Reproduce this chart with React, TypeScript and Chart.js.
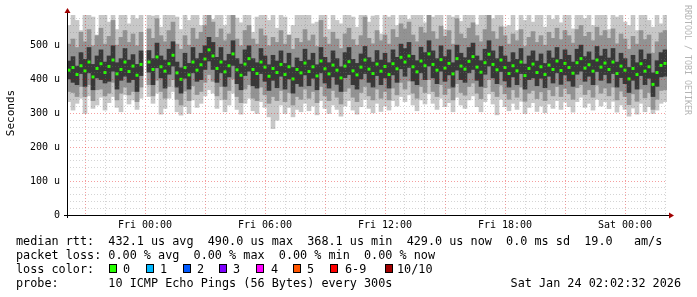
import { useEffect, useRef } from 'react';
import { Chart, registerables } from 'chart.js';

Chart.register(...registerables);

// time axis: hours relative to Fri 00:00
const X_MIN = -3.9;
const X_MAX = 26.1;
const SLOT_HOURS = 0.2;
const X_TICK_LABELS: Record<number, string> = {
  0: 'Fri 00:00',
  6: 'Fri 06:00',
  12: 'Fri 12:00',
  18: 'Fri 18:00',
  24: 'Sat 00:00',
};
const Y_MAX = 591; // microseconds

// median rtt per slot (us)
const median: (number | null)[] = [
  428, 436, 415, 441, 426, 452, 408, 433, 447, 421,
  439, 458, 417, 430, 452, 424, 440, 413, 445, null,
  452, 430, 467, 438, 425, 447, 472, 420, 401, 436,
  414, 452, 428, 444, 461, 488, 470, 433, 452, 423,
  441, 476, 429, 413, 446, 462, 430, 418, 452, 437,
  410, 433, 421, 445, 415, 438, 402, 430, 420, 449,
  424, 438, 411, 455, 432, 417, 443, 428, 405, 440,
  453, 426, 414, 437, 458, 431, 418, 446, 425, 439,
  415, 447, 432, 466, 452, 470, 438, 423, 455, 441,
  476, 445, 428, 459, 434, 448, 417, 462, 440, 431,
  454, 468, 437, 422, 450, 475, 445, 429, 458, 436,
  418, 441, 426, 452, 412, 433, 446, 421, 438, 415,
  443, 430, 455, 427, 448, 436, 419, 450, 462, 434,
  444, 425, 458, 437, 449, 430, 452, 418, 440, 428,
  402, 433, 415, 447, 425, 438, 386, 421, 442, 448,
];
// dark smoke (inner pings)
const darkLo: (number | null)[] = [
  402, 392, 385, 418, 380, 420, 370, 405, 400, 390,
  395, 425, 372, 398, 410, 392, 400, 365, 412, null,
  422, 385, 435, 405, 375, 416, 440, 378, 360, 404,
  372, 420, 395, 400, 430, 455, 430, 392, 420, 380,
  408, 442, 388, 370, 412, 425, 382, 375, 418, 395,
  368, 398, 376, 410, 372, 402, 360, 388, 380, 414,
  382, 404, 370, 420, 390, 375, 408, 386, 365, 406,
  415, 385, 372, 402, 418, 392, 378, 412, 385, 405,
  375, 414, 392, 432, 410, 436, 396, 385, 420, 400,
  440, 405, 388, 425, 395, 414, 378, 428, 400, 392,
  420, 430, 398, 380, 416, 440, 405, 388, 424, 396,
  378, 408, 385, 418, 372, 400, 405, 382, 404, 376,
  410, 390, 420, 386, 414, 396, 380, 416, 425, 395,
  410, 385, 424, 398, 415, 390, 418, 378, 406, 388,
  362, 398, 372, 412, 385, 404, 350, 380, 408, 410,
];
const darkHi: (number | null)[] = [
  455, 468, 440, 480, 460, 495, 445, 470, 488, 452,
  470, 500, 450, 462, 492, 458, 474, 445, 485, null,
  486, 462, 508, 470, 458, 490, 512, 452, 435, 478,
  448, 495, 462, 478, 500, 525, 510, 466, 495, 456,
  475, 515, 462, 446, 488, 500, 462, 450, 492, 470,
  444, 472, 455, 485, 448, 478, 436, 464, 454, 490,
  458, 478, 444, 495, 466, 450, 485, 462, 438, 480,
  495, 460, 448, 476, 498, 465, 452, 486, 458, 478,
  450, 488, 466, 505, 492, 510, 472, 456, 496, 480,
  515, 485, 462, 500, 468, 488, 450, 502, 478, 465,
  495, 508, 470, 456, 490, 515, 485, 462, 498, 470,
  452, 480, 460, 492, 446, 470, 485, 455, 476, 448,
  485, 464, 495, 460, 488, 472, 452, 490, 502, 468,
  482, 458, 498, 470, 490, 464, 492, 452, 478, 462,
  436, 472, 450, 488, 460, 476, 420, 456, 480, 488,
];
// medium smoke
const midLo: (number | null)[] = [
  365, 362, 350, 380, 350, 385, 338, 370, 372, 352,
  360, 392, 340, 360, 378, 355, 365, 335, 378, null,
  385, 352, 398, 365, 345, 380, 400, 342, 325, 366,
  338, 382, 356, 365, 392, 415, 395, 352, 380, 342,
  368, 402, 350, 332, 372, 385, 345, 338, 378, 355,
  330, 350, 338, 368, 335, 362, 325, 350, 342, 372,
  345, 365, 332, 380, 352, 338, 368, 348, 328, 365,
  375, 348, 335, 362, 380, 352, 340, 372, 345, 365,
  340, 375, 355, 392, 372, 396, 360, 345, 380, 362,
  400, 365, 350, 385, 356, 374, 340, 388, 362, 354,
  380, 390, 360, 344, 376, 400, 365, 350, 384, 358,
  342, 370, 348, 378, 336, 360, 368, 344, 364, 338,
  370, 352, 380, 350, 374, 358, 342, 376, 385, 356,
  370, 348, 384, 360, 375, 352, 378, 340, 366, 350,
  326, 358, 336, 372, 346, 362, 312, 342, 368, 370,
];
const midHi: (number | null)[] = [
  505, 520, 495, 540, 512, 548, 500, 530, 552, 505,
  528, 575, 502, 525, 545, 510, 535, 500, 540, null,
  550, 522, 580, 530, 512, 545, 570, 505, 490, 530,
  502, 552, 520, 540, 560, 600, 570, 525, 550, 515,
  535, 590, 520, 500, 545, 560, 520, 505, 550, 530,
  500, 525, 510, 545, 505, 532, 490, 522, 510, 548,
  515, 532, 498, 575, 525, 505, 540, 520, 492, 535,
  552, 518, 502, 530, 585, 522, 506, 545, 515, 532,
  505, 548, 525, 565, 550, 570, 532, 512, 555, 538,
  600, 542, 520, 558, 528, 545, 505, 580, 535, 522,
  552, 568, 530, 512, 548, 598, 542, 520, 556, 530,
  505, 535, 515, 548, 498, 525, 542, 510, 530, 502,
  540, 522, 552, 518, 545, 530, 508, 548, 560, 528,
  540, 515, 555, 530, 545, 522, 550, 506, 535, 520,
  490, 528, 505, 545, 518, 532, 478, 512, 538, 545,
];
// light smoke (all pings, min..max)
const lightLo: (number | null)[] = [
  335, 310, 330, 345, 300, 352, 315, 325, 348, 310,
  332, 350, 318, 305, 355, 328, 340, 312, 345, null,
  350, 330, 360, 298, 315, 345, 365, 305, 295, 320,
  300, 340, 318, 330, 352, 370, 360, 315, 340, 305,
  325, 360, 312, 298, 330, 345, 308, 300, 335, 318,
  290, 255, 280, 325, 300, 318, 290, 312, 305, 330,
  308, 322, 296, 338, 315, 300, 325, 312, 292, 322,
  338, 310, 298, 320, 342, 315, 302, 330, 306, 322,
  310, 338, 322, 350, 335, 355, 325, 308, 340, 328,
  358, 330, 312, 345, 320, 332, 305, 348, 325, 315,
  340, 352, 320, 305, 335, 358, 328, 296, 342, 320,
  308, 330, 312, 336, 300, 318, 332, 306, 322, 302,
  328, 315, 338, 312, 334, 320, 304, 335, 348, 318,
  330, 310, 342, 322, 335, 314, 336, 304, 325, 312,
  292, 316, 298, 330, 305, 320, 300, 310, 330, 335,
];
const lightHi: (number | null)[] = [
  560, 600, 575, 545, 610, 650, 585, 532, 640, 595,
  570, 650, 548, 625, 640, 565, 600, 580, 635, null,
  640, 588, 650, 555, 590, 640, 600, 585, 548, 620,
  575, 645, 600, 560, 650, 660, 578, 610, 640, 560,
  630, 655, 582, 568, 620, 650, 540, 585, 645, 590,
  575, 610, 552, 640, 585, 530, 560, 605, 590, 645,
  600, 565, 570, 650, 610, 548, 635, 575, 565, 630,
  648, 585, 555, 620, 650, 570, 588, 640, 535, 625,
  585, 642, 560, 655, 640, 578, 620, 595, 648, 568,
  655, 585, 605, 650, 548, 640, 585, 650, 572, 608,
  645, 655, 562, 595, 642, 655, 580, 605, 650, 556,
  560, 628, 545, 645, 575, 612, 570, 592, 620, 555,
  632, 578, 648, 568, 640, 620, 550, 645, 652, 580,
  635, 560, 650, 590, 642, 548, 646, 585, 630, 570,
  560, 612, 545, 640, 600, 575, 555, 592, 565, 640,
];

const LEGEND_LINE1 = 'median rtt:  432.1 us avg  490.0 us max  368.1 us min  429.0 us now  0.0 ms sd  19.0   am/s';
const LEGEND_LINE2 = 'packet loss: 0.00 % avg  0.00 % max  0.00 % min  0.00 % now';
const LEGEND_LINE3 = 'loss color:';
const LEGEND_LINE4 = 'probe:       10 ICMP Echo Pings (56 Bytes) every 300s';
const DATE_TEXT = 'Sat Jan 24 02:02:32 2026';
const LOSS_LABELS = ['0', '1', '2', '3', '4', '5', '6-9', '10/10'];
const LOSS_COLORS = ['#26ff00', '#00b8ff', '#0059ff', '#7e00ff', '#ff00ff', '#ff5500', '#ff0000', '#a10000'];
const LOSS_BOX_X = [109, 146, 183, 219, 256, 293, 330, 385];
const LOSS_TEXT_X = [123, 160, 197, 233, 271, 307, 345, 397];

const MONO = '"DejaVu Sans Mono", monospace';
const MAJOR_GRID = 'rgba(230,0,0,0.38)';
const MINOR_GRID = 'rgba(120,120,120,0.32)';

export default function App() {
  const ref = useRef<HTMLCanvasElement | null>(null);
  useEffect(() => {
    document.body.style.margin = '0';
    const canvas = ref.current;
    if (!canvas) return;
    const times = median.map((_, i) => X_MIN + SLOT_HOURS * (i + 0.5));
    const band = (lo: (number | null)[], hi: (number | null)[]) =>
      times.map((t, i) => ({ x: t, y: lo[i] == null || hi[i] == null ? null : [lo[i], hi[i]] }));

    const overlay = {
      id: 'rrdOverlay',
      afterDraw(chart: any) {
        const ctx = chart.ctx as CanvasRenderingContext2D;
        const a = chart.chartArea;
        ctx.save();
        // axes
        ctx.strokeStyle = '#000';
        ctx.lineWidth = 1;
        ctx.beginPath();
        ctx.moveTo(a.left - 3, a.bottom + 0.5);
        ctx.lineTo(a.right + 3, a.bottom + 0.5);
        ctx.moveTo(a.left + 0.5, a.bottom + 3);
        ctx.lineTo(a.left + 0.5, a.top - 3);
        ctx.stroke();
        // arrows
        ctx.fillStyle = '#a00000';
        ctx.beginPath();
        ctx.moveTo(a.right + 2, a.bottom - 2.5);
        ctx.lineTo(a.right + 7, a.bottom + 0.5);
        ctx.lineTo(a.right + 2, a.bottom + 3.5);
        ctx.closePath();
        ctx.fill();
        ctx.beginPath();
        ctx.moveTo(a.left - 2.5, a.top - 2);
        ctx.lineTo(a.left + 0.5, a.top - 7);
        ctx.lineTo(a.left + 3.5, a.top - 2);
        ctx.closePath();
        ctx.fill();
        // y title
        ctx.fillStyle = '#000';
        ctx.font = `11px ${MONO}`;
        ctx.textAlign = 'center';
        ctx.textBaseline = 'middle';
        ctx.save();
        ctx.translate(11, 113);
        ctx.rotate(-Math.PI / 2);
        ctx.fillText('Seconds', 0, 0);
        ctx.restore();
        // watermark
        ctx.save();
        ctx.fillStyle = '#b4b4b4';
        ctx.font = `8.3px ${MONO}`;
        ctx.translate(687, 60);
        ctx.rotate(Math.PI / 2);
        ctx.fillText('RRDTOOL / TOBI OETIKER', 0, 0);
        ctx.restore();
        // legend
        ctx.textAlign = 'left';
        ctx.textBaseline = 'alphabetic';
        ctx.font = `11.8px ${MONO}`;
        ctx.fillStyle = '#000';
        ctx.fillText(LEGEND_LINE1, 16, 245);
        ctx.fillText(LEGEND_LINE2, 16, 259);
        ctx.fillText(LEGEND_LINE3, 16, 273);
        ctx.fillText(LEGEND_LINE4, 16, 287);
        LOSS_LABELS.forEach((lab, i) => {
          ctx.fillStyle = LOSS_COLORS[i];
          ctx.fillRect(LOSS_BOX_X[i], 264, 7, 8);
          ctx.strokeStyle = '#000';
          ctx.strokeRect(LOSS_BOX_X[i] + 0.5, 264.5, 7, 8);
          ctx.fillStyle = '#000';
          ctx.fillText(lab, LOSS_TEXT_X[i], 273);
        });
        ctx.textAlign = 'right';
        ctx.fillText(DATE_TEXT, 681, 287);
        ctx.restore();
      },
    };

    const chart = new Chart(canvas, {
      type: 'bar',
      data: {
        datasets: [
          {
            type: 'line',
            label: 'median',
            data: times.map((t, i) => ({ x: t, y: median[i] })),
            showLine: false,
            pointStyle: 'rect',
            pointRadius: 2.1,
            pointBorderWidth: 0,
            pointBackgroundColor: LOSS_COLORS[0],
            order: 0,
          } as any,
          {
            label: 'dark',
            data: band(darkLo, darkHi) as any,
            backgroundColor: '#383838',
            order: 1,
          },
          {
            label: 'mid',
            data: band(midLo, midHi) as any,
            backgroundColor: '#939393',
            order: 2,
          },
          {
            label: 'light',
            data: band(lightLo, lightHi) as any,
            backgroundColor: '#c8c8c8',
            order: 3,
          },
        ],
      },
      options: {
        animation: false,
        responsive: false,
        devicePixelRatio: 1,
        events: [],
        layout: { padding: { left: 0, top: 15, right: 30, bottom: 62 } },
        datasets: {
          bar: { grouped: false, barPercentage: 1, categoryPercentage: 1, borderWidth: 0 },
        },
        plugins: { legend: { display: false }, tooltip: { enabled: false } },
        scales: {
          x: {
            type: 'linear',
            min: X_MIN,
            max: X_MAX,
            offset: false,
            afterBuildTicks: (scale: any) => {
              const ticks = [];
              for (let h = Math.ceil(X_MIN); h <= Math.floor(X_MAX); h++) ticks.push({ value: h });
              scale.ticks = ticks;
            },
            afterFit: (scale: any) => {
              scale.height = 20;
            },
            ticks: {
              autoSkip: false,
              maxRotation: 0,
              padding: 4,
              color: '#000',
              font: { family: MONO, size: 10 },
              callback: (v: any) => X_TICK_LABELS[v as number] ?? '',
            },
            grid: {
              z: 1,
              offset: false,
              drawTicks: false,
              lineWidth: 1,
              color: (c: any) => (c.tick && c.tick.value % 3 === 0 ? MAJOR_GRID : MINOR_GRID),
            },
            border: { display: false, dash: [1, 2] },
          },
          y: {
            type: 'linear',
            min: 0,
            max: Y_MAX,
            afterBuildTicks: (scale: any) => {
              const ticks = [];
              for (let v = 0; v < Y_MAX; v += 20) ticks.push({ value: v });
              scale.ticks = ticks;
            },
            afterFit: (scale: any) => {
              scale.width = 67;
            },
            ticks: {
              autoSkip: false,
              padding: 7,
              color: '#000',
              font: { family: MONO, size: 10 },
              callback: (v: any) => (v % 100 === 0 ? (v === 0 ? '0' : `${v} u`) : ''),
            },
            grid: {
              z: 1,
              drawTicks: false,
              lineWidth: 1,
              color: (c: any) => (c.tick && c.tick.value % 100 === 0 ? MAJOR_GRID : MINOR_GRID),
            },
            border: { display: false, dash: [1, 2] },
          },
        },
      },
      plugins: [overlay],
    });
    return () => chart.destroy();
  }, []);
  return <canvas ref={ref} width={697} height={297} style={{ display: 'block', width: 697, height: 297 }} />;
}
